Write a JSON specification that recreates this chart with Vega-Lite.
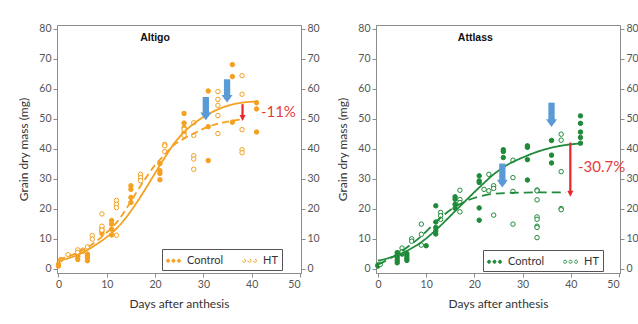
{
 "$schema": "https://vega.github.io/schema/vega-lite/v6.json",
 "padding": {"left": 17, "top": 23, "right": 0, "bottom": 0},
 "background": "white",
 "config": {
  "font": "Lato",
  "view": {"stroke": "#8c8c8c", "strokeWidth": 1},
  "axis": {"grid": false, "domainColor": "#8c8c8c", "tickColor": "#8c8c8c", "tickSize": 4, "labelColor": "#555555", "labelFontSize": 10.5, "labelFont": "Lato", "titleFont": "Lato", "titleFontSize": 12, "titleFontWeight": "normal", "titleColor": "#333333", "labelPadding": 2}
 },
 "datasets": {
  "ptsA": [
   {"type":"Control","day":0,"v":1.4},{"type":"Control","day":0,"v":0.8},{"type":"Control","day":4,"v":4.6},{"type":"Control","day":4,"v":3.9},{"type":"Control","day":4,"v":3.0},{"type":"Control","day":6,"v":4.8},{"type":"Control","day":6,"v":4.2},{"type":"Control","day":6,"v":3.6},{"type":"Control","day":6,"v":2.6},{"type":"Control","day":9,"v":13.5},{"type":"Control","day":9,"v":12.5},{"type":"Control","day":9,"v":11.7},{"type":"Control","day":11,"v":16},{"type":"Control","day":11,"v":14.8},{"type":"Control","day":11,"v":13.1},{"type":"Control","day":11,"v":11.2},{"type":"Control","day":15,"v":27.6},{"type":"Control","day":15,"v":26.4},{"type":"Control","day":15,"v":23.7},{"type":"Control","day":15,"v":22},{"type":"Control","day":21,"v":35},{"type":"Control","day":21,"v":32.6},{"type":"Control","day":21,"v":31.7},{"type":"Control","day":21,"v":29.6},{"type":"Control","day":26,"v":51.7},{"type":"Control","day":26,"v":48.5},{"type":"Control","day":26,"v":47},{"type":"Control","day":26,"v":45.3},{"type":"Control","day":31,"v":59.2},{"type":"Control","day":31,"v":47.3},{"type":"Control","day":31,"v":36},{"type":"Control","day":36,"v":68},{"type":"Control","day":36,"v":64},{"type":"Control","day":36,"v":48.8},{"type":"Control","day":41,"v":55.3},{"type":"Control","day":41,"v":53.2},{"type":"Control","day":41,"v":45.5},
   {"type":"HT","day":0.5,"v":3},{"type":"HT","day":2,"v":4.6},{"type":"HT","day":4,"v":6.2},{"type":"HT","day":4,"v":5.4},{"type":"HT","day":5,"v":6.1},{"type":"HT","day":5,"v":5.7},{"type":"HT","day":6,"v":7.2},{"type":"HT","day":7,"v":11},{"type":"HT","day":7,"v":9.8},{"type":"HT","day":9,"v":18.2},{"type":"HT","day":9,"v":14.1},{"type":"HT","day":9,"v":12.8},{"type":"HT","day":12,"v":22.7},{"type":"HT","day":12,"v":21.4},{"type":"HT","day":12,"v":20.3},{"type":"HT","day":12,"v":11.1},{"type":"HT","day":17,"v":31.4},{"type":"HT","day":17,"v":30.3},{"type":"HT","day":17,"v":29.3},{"type":"HT","day":22,"v":41.4},{"type":"HT","day":22,"v":40.9},{"type":"HT","day":22,"v":39},{"type":"HT","day":26,"v":46.4},{"type":"HT","day":26,"v":44.4},{"type":"HT","day":28,"v":48.6},{"type":"HT","day":28,"v":44.4},{"type":"HT","day":28,"v":37.6},{"type":"HT","day":28,"v":36.5},{"type":"HT","day":28,"v":33.1},{"type":"HT","day":33,"v":59},{"type":"HT","day":33,"v":56.4},{"type":"HT","day":33,"v":54.4},{"type":"HT","day":33,"v":51},{"type":"HT","day":33,"v":45},{"type":"HT","day":38,"v":64.3},{"type":"HT","day":38,"v":58.1},{"type":"HT","day":38,"v":46.3},{"type":"HT","day":38,"v":39.6},{"type":"HT","day":38,"v":38.6}
  ],
  "ptsB": [
   {"type":"Control","day":0,"v":1.2},{"type":"Control","day":0,"v":0.8},{"type":"Control","day":4,"v":5.3},{"type":"Control","day":4,"v":4.4},{"type":"Control","day":4,"v":3.6},{"type":"Control","day":4,"v":2.7},{"type":"Control","day":4,"v":1.9},{"type":"Control","day":5,"v":5.7},{"type":"Control","day":5,"v":4.8},{"type":"Control","day":6,"v":5},{"type":"Control","day":6,"v":4.2},{"type":"Control","day":6,"v":3.4},{"type":"Control","day":6,"v":2.7},{"type":"Control","day":10,"v":7.6},{"type":"Control","day":12,"v":20.9},{"type":"Control","day":12,"v":15.5},{"type":"Control","day":12,"v":13.7},{"type":"Control","day":12,"v":12.6},{"type":"Control","day":12,"v":11.5},{"type":"Control","day":16,"v":23.9},{"type":"Control","day":16,"v":23.1},{"type":"Control","day":16,"v":21.4},{"type":"Control","day":16,"v":20.1},{"type":"Control","day":21,"v":30.9},{"type":"Control","day":21,"v":29.2},{"type":"Control","day":21,"v":28.7},{"type":"Control","day":21,"v":20.2},{"type":"Control","day":21,"v":16.1},{"type":"Control","day":26,"v":39.6},{"type":"Control","day":26,"v":39},{"type":"Control","day":26,"v":37},{"type":"Control","day":31,"v":40.9},{"type":"Control","day":31,"v":40.4},{"type":"Control","day":31,"v":36.3},{"type":"Control","day":31,"v":29.5},{"type":"Control","day":36,"v":42.7},{"type":"Control","day":36,"v":37.8},{"type":"Control","day":36,"v":35.2},{"type":"Control","day":42,"v":50.9},{"type":"Control","day":42,"v":48.4},{"type":"Control","day":42,"v":45.5},{"type":"Control","day":42,"v":43.7},{"type":"Control","day":42,"v":41.8},
   {"type":"HT","day":0.5,"v":1.4},{"type":"HT","day":5,"v":6.8},{"type":"HT","day":5,"v":5.5},{"type":"HT","day":7,"v":9.9},{"type":"HT","day":7,"v":9.1},{"type":"HT","day":9,"v":14.8},{"type":"HT","day":9,"v":11.4},{"type":"HT","day":9,"v":7.8},{"type":"HT","day":13,"v":18.7},{"type":"HT","day":13,"v":17.6},{"type":"HT","day":13,"v":16.4},{"type":"HT","day":17,"v":26.1},{"type":"HT","day":17,"v":23},{"type":"HT","day":17,"v":22},{"type":"HT","day":17,"v":18.9},{"type":"HT","day":22,"v":26.4},{"type":"HT","day":23,"v":31.4},{"type":"HT","day":23,"v":25.9},{"type":"HT","day":24,"v":27.6},{"type":"HT","day":24,"v":26.7},{"type":"HT","day":24,"v":17.8},{"type":"HT","day":28,"v":36.1},{"type":"HT","day":28,"v":30.3},{"type":"HT","day":28,"v":25.7},{"type":"HT","day":28,"v":14.8},{"type":"HT","day":33,"v":26.2},{"type":"HT","day":33,"v":25.9},{"type":"HT","day":33,"v":22.9},{"type":"HT","day":33,"v":17.2},{"type":"HT","day":33,"v":16.4},{"type":"HT","day":33,"v":14.1},{"type":"HT","day":33,"v":13.7},{"type":"HT","day":33,"v":10.3},{"type":"HT","day":38,"v":44.8},{"type":"HT","day":38,"v":42.8},{"type":"HT","day":38,"v":32.3},{"type":"HT","day":38,"v":20},{"type":"HT","day":38,"v":19.6}
  ],
  "curvesA": [
   {"series":"Control","day":0,"v":2.5},{"series":"Control","day":2,"v":3.4},{"series":"Control","day":4,"v":4.6},{"series":"Control","day":6,"v":6.2},{"series":"Control","day":8,"v":8.2},{"series":"Control","day":10,"v":10.5},{"series":"Control","day":12,"v":13.3},{"series":"Control","day":14,"v":17},{"series":"Control","day":16,"v":21.5},{"series":"Control","day":18,"v":26.5},{"series":"Control","day":20,"v":31.8},{"series":"Control","day":22,"v":37},{"series":"Control","day":24,"v":41.8},{"series":"Control","day":26,"v":45.5},{"series":"Control","day":28,"v":48.3},{"series":"Control","day":30,"v":50.5},{"series":"Control","day":32,"v":52.3},{"series":"Control","day":34,"v":53.7},{"series":"Control","day":36,"v":54.7},{"series":"Control","day":38,"v":55.3},{"series":"Control","day":41,"v":55.7},
   {"series":"HT","day":0,"v":3},{"series":"HT","day":2,"v":4},{"series":"HT","day":4,"v":5.3},{"series":"HT","day":6,"v":7},{"series":"HT","day":8,"v":9.3},{"series":"HT","day":10,"v":12},{"series":"HT","day":12,"v":15.3},{"series":"HT","day":14,"v":19.8},{"series":"HT","day":16,"v":25},{"series":"HT","day":18,"v":30},{"series":"HT","day":20,"v":34.5},{"series":"HT","day":22,"v":38},{"series":"HT","day":24,"v":41.3},{"series":"HT","day":26,"v":43.3},{"series":"HT","day":28,"v":45},{"series":"HT","day":31,"v":47.3},{"series":"HT","day":35,"v":49},{"series":"HT","day":38.3,"v":49.8}
  ],
  "curvesB": [
   {"series":"Control","day":0,"v":2.6},{"series":"Control","day":3,"v":3.9},{"series":"Control","day":6,"v":5.9},{"series":"Control","day":9,"v":8.8},{"series":"Control","day":12,"v":12.8},{"series":"Control","day":15,"v":17.5},{"series":"Control","day":18,"v":22.3},{"series":"Control","day":21,"v":27},{"series":"Control","day":24,"v":31.4},{"series":"Control","day":27,"v":34.7},{"series":"Control","day":30,"v":37},{"series":"Control","day":33,"v":38.9},{"series":"Control","day":36,"v":40.3},{"series":"Control","day":39,"v":41.2},{"series":"Control","day":42,"v":41.7},
   {"series":"HT","day":0,"v":1.3},{"series":"HT","day":3,"v":3.8},{"series":"HT","day":6,"v":7},{"series":"HT","day":9,"v":10.8},{"series":"HT","day":12,"v":15.5},{"series":"HT","day":15,"v":19.5},{"series":"HT","day":18,"v":22.3},{"series":"HT","day":21,"v":24},{"series":"HT","day":24,"v":24.9},{"series":"HT","day":27,"v":25.2},{"series":"HT","day":30,"v":25.3},{"series":"HT","day":35,"v":25.4},{"series":"HT","day":39,"v":25.4}
  ],
  "blueA": [{"day":30.5,"top":57.2,"head":50.7},{"day":34.9,"top":63.1,"head":56.6}],
  "blueB": [{"day":25.8,"top":35,"head":28.3},{"day":36,"top":55.3,"head":48.5}],
  "redA": [{"day":38.1,"top":54.8,"head":50.2}],
  "redB": [{"day":39.9,"top":42,"head":24.9}],
  "one": [{"k": 1}]
 },
 "spacing": 16,
 "resolve": {"scale": {"x": "independent", "y": "independent", "fill": "independent", "strokeDash": "independent"}, "legend": {"fill": "independent"}},
 "hconcat": [
  {
   "width": 244, "height": 248,
   "resolve": {"axis": {"y": "independent"}},
   "layer": [
    {"data": {"name": "ptsA"},
     "mark": {"type": "point", "size": 20, "strokeWidth": 1, "stroke": "#F4A020", "opacity": 1},
     "encoding": {
      "x": {"field": "day", "type": "quantitative", "scale": {"domain": [-0.3, 50.2], "nice": false, "zero": false}, "axis": {"values": [0,5,10,15,20,25,30,35,40,45,50], "title": "Days after anthesis", "titlePadding": 9}},
      "y": {"field": "v", "type": "quantitative", "scale": {"domain": [-1.5, 81.2], "nice": false, "zero": false}, "axis": {"values": [0,10,20,30,40,50,60,70,80], "title": "Grain dry mass (mg)", "orient": "left", "titlePadding": 8}},
      "fill": {"field": "type", "type": "nominal", "scale": {"domain": ["Control", "HT"], "range": ["#F4A020", "#ffffff"]},
       "legend": {"title": null, "orient": "none", "legendX": 105, "legendY": 224, "direction": "horizontal", "strokeColor": "#555555", "padding": 4,
        "symbolType": "M-1,0a0.22,0.22 0 1,0 0.44,0a0.22,0.22 0 1,0 -0.44,0M-0.22,0a0.22,0.22 0 1,0 0.44,0a0.22,0.22 0 1,0 -0.44,0M0.56,0a0.22,0.22 0 1,0 0.44,0a0.22,0.22 0 1,0 -0.44,0",
        "symbolSize": 196, "symbolStrokeColor": "#F4A020", "symbolStrokeWidth": 1, "labelFont": "Lato", "labelFontSize": 11, "labelColor": "#333333", "columnPadding": 16, "labelOffset": 6,
        "labelExpr": "datum.label === 'HT' ? 'HT           ' : datum.label"}}
     }},
    {"data": {"name": "curvesA"},
     "mark": {"type": "line", "color": "#F4A020", "strokeWidth": 1.8, "interpolate": "monotone"},
     "encoding": {
      "x": {"field": "day", "type": "quantitative", "scale": {"domain": [-0.3, 50.2], "nice": false, "zero": false}},
      "y": {"field": "v", "type": "quantitative", "scale": {"domain": [-1.5, 81.2], "nice": false, "zero": false}, "axis": {"values": [0,10,20,30,40,50,60,70,80], "title": null, "orient": "right"}},
      "strokeDash": {"field": "series", "type": "nominal", "scale": {"domain": ["Control", "HT"], "range": [[1, 0], [7, 4]]}, "legend": null}
     }},
    {"data": {"name": "blueA"},
     "mark": {"type": "rule", "color": "#5B9BD5", "strokeWidth": 6.3},
     "encoding": {"x": {"field": "day", "type": "quantitative"}, "y": {"field": "top", "type": "quantitative", "axis": null}, "y2": {"field": "head"}}},
    {"data": {"name": "blueA"},
     "mark": {"type": "point", "filled": true, "opacity": 1, "color": "#5B9BD5", "shape": "M-1,-0.7L1,-0.7L0,0.7Z", "size": 121},
     "encoding": {"x": {"field": "day", "type": "quantitative"}, "y": {"field": "head", "type": "quantitative", "axis": null}}},
    {"data": {"name": "redA"},
     "mark": {"type": "rule", "color": "#E8252B", "strokeWidth": 2.2},
     "encoding": {"x": {"field": "day", "type": "quantitative"}, "y": {"field": "top", "type": "quantitative", "axis": null}, "y2": {"field": "head"}}},
    {"data": {"name": "redA"},
     "mark": {"type": "point", "filled": true, "opacity": 1, "color": "#E8252B", "shape": "M-1,-1L1,-1L0,1Z", "size": 36},
     "encoding": {"x": {"field": "day", "type": "quantitative"}, "y": {"field": "head", "type": "quantitative", "axis": null}}},
    {"data": {"name": "one"},
     "mark": {"type": "text", "text": "-11%", "align": "left", "baseline": "middle", "font": "Lato", "fontSize": 15, "color": "#E63B3B"},
     "encoding": {"x": {"datum": 41.9, "type": "quantitative"}, "y": {"datum": 52.3, "type": "quantitative", "axis": null}}},
    {"data": {"name": "one"},
     "mark": {"type": "text", "text": "Altigo", "align": "center", "baseline": "middle", "font": "Liberation Sans", "fontWeight": "bold", "fontSize": 10.5, "color": "#111111"},
     "encoding": {"x": {"datum": 20, "type": "quantitative"}, "y": {"datum": 77, "type": "quantitative", "axis": null}}}
   ]
  },
  {
   "width": 244, "height": 248,
   "resolve": {"axis": {"y": "independent"}},
   "layer": [
    {"data": {"name": "ptsB"},
     "mark": {"type": "point", "size": 20, "strokeWidth": 1, "stroke": "#1F8A3A", "opacity": 1},
     "encoding": {
      "x": {"field": "day", "type": "quantitative", "scale": {"domain": [-0.4, 50.2], "nice": false, "zero": false}, "axis": {"values": [0,5,10,15,20,25,30,35,40,45,50], "title": "Days after anthesis", "titlePadding": 9}},
      "y": {"field": "v", "type": "quantitative", "scale": {"domain": [-1.5, 81.2], "nice": false, "zero": false}, "axis": {"values": [0,10,20,30,40,50,60,70,80], "title": "Grain dry mass (mg)", "orient": "left", "titlePadding": 8}},
      "fill": {"field": "type", "type": "nominal", "scale": {"domain": ["Control", "HT"], "range": ["#1F8A3A", "#ffffff"]},
       "legend": {"title": null, "orient": "none", "legendX": 107, "legendY": 225, "direction": "horizontal", "strokeColor": "#555555", "padding": 4,
        "symbolType": "M-1,0a0.22,0.22 0 1,0 0.44,0a0.22,0.22 0 1,0 -0.44,0M-0.22,0a0.22,0.22 0 1,0 0.44,0a0.22,0.22 0 1,0 -0.44,0M0.56,0a0.22,0.22 0 1,0 0.44,0a0.22,0.22 0 1,0 -0.44,0",
        "symbolSize": 196, "symbolStrokeColor": "#1F8A3A", "symbolStrokeWidth": 1, "labelFont": "Lato", "labelFontSize": 11, "labelColor": "#333333", "columnPadding": 16, "labelOffset": 6,
        "labelExpr": "datum.label === 'HT' ? 'HT           ' : datum.label"}}
     }},
    {"data": {"name": "curvesB"},
     "mark": {"type": "line", "color": "#1F8A3A", "strokeWidth": 1.8, "interpolate": "monotone"},
     "encoding": {
      "x": {"field": "day", "type": "quantitative", "scale": {"domain": [-0.4, 50.2], "nice": false, "zero": false}},
      "y": {"field": "v", "type": "quantitative", "scale": {"domain": [-1.5, 81.2], "nice": false, "zero": false}, "axis": {"values": [0,10,20,30,40,50,60,70,80], "title": null, "orient": "right"}},
      "strokeDash": {"field": "series", "type": "nominal", "scale": {"domain": ["Control", "HT"], "range": [[1, 0], [9, 5]]}, "legend": null}
     }},
    {"data": {"name": "blueB"},
     "mark": {"type": "rule", "color": "#5B9BD5", "strokeWidth": 6.3},
     "encoding": {"x": {"field": "day", "type": "quantitative"}, "y": {"field": "top", "type": "quantitative", "axis": null}, "y2": {"field": "head"}}},
    {"data": {"name": "blueB"},
     "mark": {"type": "point", "filled": true, "opacity": 1, "color": "#5B9BD5", "shape": "M-1,-0.7L1,-0.7L0,0.7Z", "size": 121},
     "encoding": {"x": {"field": "day", "type": "quantitative"}, "y": {"field": "head", "type": "quantitative", "axis": null}}},
    {"data": {"name": "redB"},
     "mark": {"type": "rule", "color": "#E8252B", "strokeWidth": 2.2},
     "encoding": {"x": {"field": "day", "type": "quantitative"}, "y": {"field": "top", "type": "quantitative", "axis": null}, "y2": {"field": "head"}}},
    {"data": {"name": "redB"},
     "mark": {"type": "point", "filled": true, "opacity": 1, "color": "#E8252B", "shape": "M-1,-1L1,-1L0,1Z", "size": 36},
     "encoding": {"x": {"field": "day", "type": "quantitative"}, "y": {"field": "head", "type": "quantitative", "axis": null}}},
    {"data": {"name": "one"},
     "mark": {"type": "text", "text": "-30.7%", "align": "left", "baseline": "middle", "font": "Lato", "fontSize": 15, "color": "#E63B3B"},
     "encoding": {"x": {"datum": 41.5, "type": "quantitative"}, "y": {"datum": 33.7, "type": "quantitative", "axis": null}}},
    {"data": {"name": "one"},
     "mark": {"type": "text", "text": "Attlass", "align": "center", "baseline": "middle", "font": "Liberation Sans", "fontWeight": "bold", "fontSize": 10.5, "color": "#111111"},
     "encoding": {"x": {"datum": 20.2, "type": "quantitative"}, "y": {"datum": 77, "type": "quantitative", "axis": null}}}
   ]
  }
 ]
}
